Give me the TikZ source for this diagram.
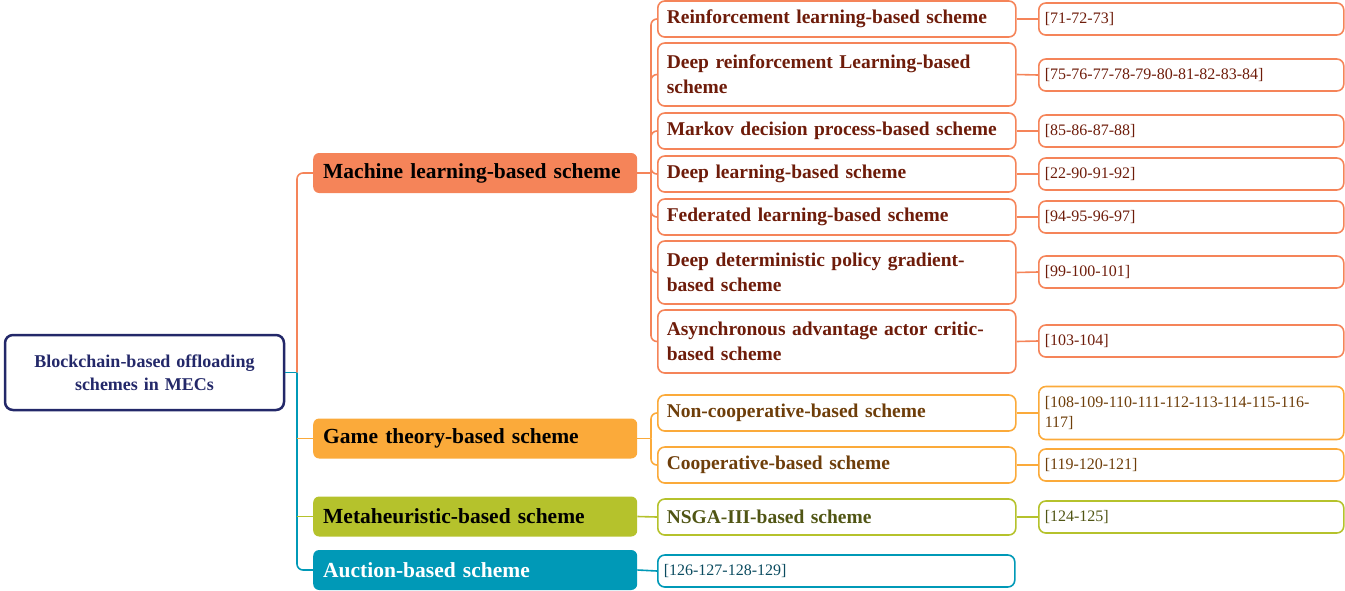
\documentclass[tikz,border=0pt]{standalone}
\usepackage{fontspec}
\setmainfont{Liberation Serif}

\definecolor{rootcol}{RGB}{35,40,105}
\definecolor{mlcol}{RGB}{245,132,89}
\definecolor{gamecol}{RGB}{251,170,58}
\definecolor{metacol}{RGB}{181,194,44}
\definecolor{auccol}{RGB}{0,153,183}
\definecolor{mltext}{RGB}{110,28,10}
\definecolor{gametext}{RGB}{110,62,10}
\definecolor{metatext}{RGB}{80,85,20}
\definecolor{auctext}{RGB}{10,75,95}

\begin{document}
\begin{tikzpicture}[x=1pt, y=-1pt,
    root/.style={draw=rootcol, line width=2.5pt, rounded corners=8pt, text=rootcol,
        minimum width=279, minimum height=75, text width=265, align=center,
        font=\fontsize{18}{23}\selectfont\bfseries},
    cat/.style={fill=#1, rounded corners=6pt, anchor=west, minimum height=40,
        text width=304, inner xsep=10, align=left, font=\fontsize{21.5}{26}\selectfont\bfseries},
    sub/.style 2 args={draw=#1, text=#2, line width=1.6pt, rounded corners=7pt, anchor=west,
        minimum height=36, text width=340, inner xsep=9, align=left,
        font=\fontsize{19.5}{25}\selectfont\bfseries},
    ref/.style 2 args={draw=#1, text=#2, line width=1.6pt, rounded corners=7pt, anchor=west,
        minimum height=32, text width=293, inner xsep=6, align=left,
        font=\fontsize{16}{20}\selectfont},
    link/.style={draw=#1, line width=1.6pt, rounded corners=6pt}]

    \useasboundingbox (0,0) rectangle (1345,590);

    % Root node
    \node[root] (root) at (144.5, 372.5) {Blockchain-based offloading\\schemes in MECs};

    % Scheme families
    \node[cat=mlcol] (ml) at (313, 173) {Machine learning-based scheme};
    \node[cat=gamecol] (game) at (313, 438.5) {Game theory-based scheme};
    \node[cat=metacol] (meta) at (313, 516.5) {Metaheuristic-based scheme};
    \node[cat=auccol, text=white] (auc) at (313, 570) {Auction-based scheme};

    % Machine learning schemes
    \node[sub={mlcol}{mltext}] (rl) at (657, 19) {Reinforcement learning-based scheme};
    \node[sub={mlcol}{mltext}, minimum height=63] (drl) at (657, 74.5) {Deep reinforcement Learning-based\\scheme};
    \node[sub={mlcol}{mltext}] (mdp) at (657, 131) {Markov decision process-based scheme};
    \node[sub={mlcol}{mltext}] (dl) at (657, 174) {Deep learning-based scheme};
    \node[sub={mlcol}{mltext}] (fl) at (657, 217) {Federated learning-based scheme};
    \node[sub={mlcol}{mltext}, minimum height=63] (ddpg) at (657, 272.5) {Deep deterministic policy gradient-\\based scheme};
    \node[sub={mlcol}{mltext}, minimum height=63] (acc) at (657, 341.5) {Asynchronous advantage actor critic-\\based scheme};

    % Machine learning references
    \node[ref={mlcol}{mltext}] (rl-ref) at (1038, 19) {[71-72-73]};
    \node[ref={mlcol}{mltext}] (drl-ref) at (1038, 75) {[75-76-77-78-79-80-81-82-83-84]};
    \node[ref={mlcol}{mltext}] (mdp-ref) at (1038, 131) {[85-86-87-88]};
    \node[ref={mlcol}{mltext}] (dl-ref) at (1038, 174) {[22-90-91-92]};
    \node[ref={mlcol}{mltext}] (fl-ref) at (1038, 217) {[94-95-96-97]};
    \node[ref={mlcol}{mltext}] (ddpg-ref) at (1038, 272) {[99-100-101]};
    \node[ref={mlcol}{mltext}] (acc-ref) at (1038, 341) {[103-104]};

    % Game theory schemes and references
    \node[sub={gamecol}{gametext}] (ncoop) at (657, 413) {Non-cooperative-based scheme};
    \node[sub={gamecol}{gametext}] (coop) at (657, 465) {Cooperative-based scheme};
    \node[ref={gamecol}{gametext}, minimum height=53] (ncoop-ref) at (1038, 413) {[108-109-110-111-112-113-114-115-116-\\117]};
    \node[ref={gamecol}{gametext}] (coop-ref) at (1038, 465) {[119-120-121]};

    % Metaheuristic scheme and references
    \node[sub={metacol}{metatext}] (nsga) at (657, 517) {NSGA-III-based scheme};
    \node[ref={metacol}{metatext}] (nsga-ref) at (1038, 517) {[124-125]};

    % Auction references
    \node[ref={auccol}{auctext}, text width=345] (auc-ref) at (657, 571) {[126-127-128-129]};

    % Trunk from the root
    \coordinate (trunk) at (297, 372.5);
    \draw[link=auccol] (root.east) -- (trunk);
    \draw[link=mlcol] (trunk) |- (ml.west);
    \draw[link=auccol] (trunk) |- (auc.west);
    \draw[link=gamecol] (trunk |- game.west) -- (game.west);
    \draw[link=metacol] (trunk |- meta.west) -- (meta.west);

    % Machine learning branches
    \coordinate (mlhub) at (651, 173);
    \draw[link=mlcol] (ml.east) -- (mlhub);
    \foreach \n in {rl,drl,mdp,dl,fl,ddpg,acc} {
        \draw[link=mlcol] (mlhub) |- (\n.west);
        \draw[link=mlcol] (\n.east) -- (\n-ref.west);
    }

    % Game theory branches
    \coordinate (gamehub) at (651, 438.5);
    \draw[link=gamecol] (game.east) -- (gamehub);
    \foreach \n in {ncoop,coop} {
        \draw[link=gamecol] (gamehub) |- (\n.west);
        \draw[link=gamecol] (\n.east) -- (\n-ref.west);
    }

    % Metaheuristic and auction branches
    \draw[link=metacol] (meta.east) -- (nsga.west);
    \draw[link=metacol] (nsga.east) -- (nsga-ref.west);
    \draw[link=auccol] (auc.east) -- (auc-ref.west);

\end{tikzpicture}
\end{document}
